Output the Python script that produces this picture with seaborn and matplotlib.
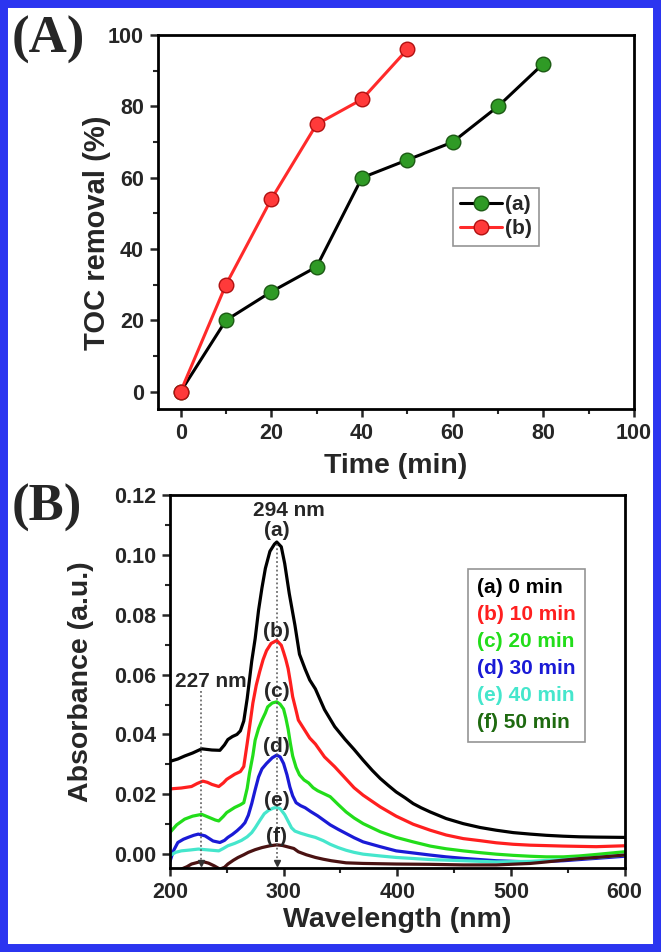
import numpy as np
import pandas as pd
import matplotlib
matplotlib.use("Agg")
import matplotlib.pyplot as plt
from matplotlib.patches import Rectangle
from matplotlib.lines import Line2D
import seaborn as sns

# ---------------- data: panel A ----------------
time_a = [0, 10, 20, 30, 40, 50, 60, 70, 80]
toc_a = [0, 20, 28, 35, 60, 65, 70, 80, 92]
time_b = [0, 10, 20, 30, 40, 50]
toc_b = [0, 30, 54, 75, 82, 96]
labels_A = ["(a)", "(b)"]

# ---------------- data: panel B ----------------
wl_a = [200, 207, 213, 220, 228, 237, 244, 248, 251, 255, 259, 262, 265, 268, 272, 275, 278, 281, 284, 288,
        292, 294, 298, 301, 305, 310, 314, 319, 323, 328, 336, 345, 354, 362, 370, 378, 385, 392, 399, 407,
        414, 421, 429, 443, 458, 473, 487, 502, 517, 531, 546, 560, 575, 600]
ab_a = [0.031, 0.0318, 0.0328, 0.0338, 0.0352, 0.0348, 0.0347, 0.0365, 0.0383, 0.0393, 0.040, 0.0412, 0.0445,
        0.052, 0.0645, 0.072, 0.0815, 0.089, 0.0955, 0.1012, 0.1036, 0.1043, 0.1027, 0.0971, 0.0871, 0.0765,
        0.0668, 0.0618, 0.0582, 0.0552, 0.0483, 0.0426, 0.0384, 0.035, 0.0314, 0.028, 0.0253, 0.023, 0.0208,
        0.0188, 0.0169, 0.0155, 0.0141, 0.0119, 0.0102, 0.0089, 0.008, 0.0072, 0.0067, 0.0063, 0.006, 0.0058,
        0.0057, 0.0056]

wl_b = [200, 210, 219, 224, 229, 233, 237, 243, 247, 250, 257, 262, 265, 268, 271, 273, 276, 279, 282, 285,
        289, 294, 298, 300, 302, 304, 306, 308, 311, 313, 319, 323, 328, 336, 345, 354, 362, 370, 385, 399,
        414, 429, 443, 458, 473, 487, 502, 517, 546, 575, 600]
ab_b = [0.0218, 0.0221, 0.0226, 0.0236, 0.0244, 0.024, 0.0233, 0.0226, 0.0238, 0.025, 0.0267, 0.0276, 0.0293,
        0.037, 0.045, 0.0505, 0.0565, 0.061, 0.065, 0.068, 0.0704, 0.0714, 0.0698, 0.0675, 0.065, 0.062, 0.0575,
        0.0526, 0.048, 0.0448, 0.0412, 0.0388, 0.0368, 0.0325, 0.0292, 0.0255, 0.0222, 0.0197, 0.0158, 0.0127,
        0.010, 0.008, 0.0064, 0.0052, 0.0045, 0.0038, 0.0033, 0.003, 0.0027, 0.0025, 0.0028]

wl_c = [200, 206, 213, 220, 228, 235, 240, 243, 247, 250, 257, 262, 265, 268, 270, 273, 275, 278, 281, 284,
        286, 290, 294, 297, 300, 302, 304, 306, 308, 311, 314, 318, 322, 326, 330, 341, 348, 355, 362, 370,
        385, 399, 414, 429, 443, 458, 473, 487, 502, 517, 531, 546, 560, 575, 600]
ab_c = [0.0072, 0.0098, 0.0117, 0.0127, 0.0133, 0.0122, 0.0114, 0.0111, 0.0126, 0.0139, 0.0156, 0.0165, 0.0172,
        0.022, 0.027, 0.033, 0.0381, 0.042, 0.0448, 0.0472, 0.0492, 0.0505, 0.0509, 0.0501, 0.0485, 0.0455,
        0.0418, 0.037, 0.0328, 0.029, 0.0265, 0.0248, 0.0238, 0.0222, 0.0212, 0.0192, 0.0166, 0.0141, 0.0121,
        0.0102, 0.0075, 0.0056, 0.0041, 0.0027, 0.0018, 0.0011, 0.0005, 0.0, -0.0004, -0.0007, -0.0009, -0.0009,
        -0.0006, -0.0001, 0.0008]

wl_d = [200, 203, 207, 212, 216, 221, 225, 231, 238, 244, 248, 251, 255, 259, 263, 266, 269, 272, 275, 278,
        281, 285, 290, 294, 297, 300, 303, 305.5, 308, 311, 315, 319, 324, 330, 341, 348, 355, 362, 370, 385,
        399, 414, 429, 443, 458, 487, 517, 546, 575, 600]
ab_d = [-0.0025, 0.001, 0.0039, 0.005, 0.0056, 0.0063, 0.0067, 0.0061, 0.0044, 0.0039, 0.0046, 0.0056, 0.0066,
        0.0078, 0.0092, 0.0105, 0.013, 0.0169, 0.0215, 0.0258, 0.0285, 0.0303, 0.0322, 0.0331, 0.0325, 0.0303,
        0.0265, 0.0225, 0.0195, 0.0172, 0.0162, 0.0155, 0.0142, 0.0128, 0.0098, 0.0083, 0.0069, 0.0055, 0.0041,
        0.0025, 0.0011, 0.0004, -0.0003, -0.0009, -0.0014, -0.0022, -0.0026, -0.0022, -0.0014, -0.0007]

wl_e = [200, 205, 210, 218, 225, 234, 243, 247, 251, 257, 263, 268, 272, 275, 279, 283, 287, 291, 294, 297,
        301, 304, 307, 310, 315, 322, 328, 335, 341, 348, 355, 362, 370, 385, 399, 429, 458, 487, 517, 546,
        575, 600]
ab_e = [-0.0005, 0.0006, 0.0011, 0.0014, 0.0017, 0.0014, 0.0011, 0.0019, 0.0028, 0.0036, 0.0046, 0.0058, 0.0072,
        0.0088, 0.0112, 0.0135, 0.0147, 0.0154, 0.0156, 0.0152, 0.0132, 0.011, 0.0088, 0.0077, 0.007, 0.0062,
        0.0056, 0.0045, 0.0033, 0.0022, 0.0013, 0.0006, 0.0, -0.0006, -0.0011, -0.0018, -0.0022, -0.0026,
        -0.0024, -0.0018, -0.0011, -0.0003]

wl_f = [210, 215, 219, 226, 230, 234, 239, 244, 248, 251, 256, 260, 265, 269, 275, 281, 288, 294, 299, 304,
        309, 313, 320, 328, 335, 342, 355, 370, 399, 429, 458, 487, 517, 531, 546, 560, 575, 600]
ab_f = [-0.005, -0.0042, -0.0033, -0.0026, -0.0026, -0.003, -0.0039, -0.005, -0.0044, -0.0033, -0.002, -0.0011,
        -0.0002, 0.0006, 0.0015, 0.0022, 0.0028, 0.0031, 0.0029, 0.0024, 0.0019, 0.0008, -0.0002, -0.0011,
        -0.0017, -0.0022, -0.0029, -0.0031, -0.0033, -0.0034, -0.0036, -0.0036, -0.0031, -0.0026, -0.002,
        -0.0015, -0.0011, -0.0003]

curve_keys = ["(a)", "(b)", "(c)", "(d)", "(e)", "(f)"]
legend_B = ["(a) 0 min", "(b) 10 min", "(c) 20 min", "(d) 30 min", "(e) 40 min", "(f) 50 min"]
line_colors = ["#000000", "#ff1f1f", "#22dd1a", "#1a1ad6", "#45e6cc", "#4a1212"]
text_colors = ["#000000", "#ff1f1f", "#22dd1a", "#1a1ad6", "#45e6cc", "#1e6a10"]
label_y = [0.1083, 0.0743, 0.0543, 0.0359, 0.0180, 0.0058]

# ---------------- style ----------------
sns.set_style("ticks")
plt.rcParams["font.family"] = ["Liberation Sans", "DejaVu Sans"]
plt.rcParams["font.weight"] = "bold"
plt.rcParams["axes.labelweight"] = "bold"

fig = plt.figure(figsize=(6.61, 9.52), dpi=100)
axA = fig.add_axes([0.239, 0.570, 0.720, 0.393])
axB = fig.add_axes([0.257, 0.088, 0.688, 0.392])

# ---------------- panel A ----------------
sns.lineplot(x=time_a, y=toc_a, ax=axA, color="black", lw=2.2, marker="o", markersize=10.5,
             markerfacecolor="#2f9a25", markeredgecolor="#1c5a14", markeredgewidth=1, label=labels_A[0])
sns.lineplot(x=time_b, y=toc_b, ax=axA, color="#ff2a2a", lw=2.2, marker="o", markersize=10.5,
             markerfacecolor="#ff3a3a", markeredgecolor="#b01010", markeredgewidth=1, label=labels_A[1])
axA.set_xlim(-5, 100)
axA.set_ylim(-5, 100)
axA.set_xticks(np.arange(0, 101, 20))
axA.set_xticks(np.arange(10, 100, 20), minor=True)
axA.set_yticks(np.arange(0, 101, 20))
axA.set_yticks(np.arange(10, 100, 20), minor=True)
axA.set_xlabel("Time (min)", fontsize=20.5, fontweight="bold", labelpad=6)
axA.set_ylabel("TOC removal (%)", fontsize=21, fontweight="bold")
axA.yaxis.set_label_coords(-0.098, 0.473)
legA = axA.legend(loc="upper left", bbox_to_anchor=(0.62, 0.592), frameon=True, fancybox=False,
                  edgecolor="#7a7a7a", handlelength=2.0, handletextpad=0.15, borderpad=0.35,
                  labelspacing=0.25, borderaxespad=0, prop={"size": 15, "weight": "bold"})
legA.get_frame().set_linewidth(1.2)

# ---------------- panel B ----------------
wls = [wl_a, wl_b, wl_c, wl_d, wl_e, wl_f]
abss = [ab_a, ab_b, ab_c, ab_d, ab_e, ab_f]
df_b = pd.concat([pd.DataFrame({"wl": w, "abs": a, "sample": k}) for w, a, k in zip(wls, abss, curve_keys)])
sns.lineplot(data=df_b, x="wl", y="abs", hue="sample", hue_order=curve_keys,
             palette=dict(zip(curve_keys, line_colors)), lw=2.3, ax=axB, legend=False, estimator=None,
             solid_joinstyle="round", solid_capstyle="round")
axB.set_xlim(200, 600)
axB.set_ylim(-0.0047, 0.12)
axB.set_xticks(np.arange(200, 601, 100))
axB.set_xticks(np.arange(250, 600, 100), minor=True)
axB.set_yticks(np.arange(0, 0.121, 0.02))
axB.set_yticks(np.arange(0.01, 0.12, 0.02), minor=True)
axB.set_yticklabels([f"{v:.2f}" for v in np.arange(0, 0.121, 0.02)])
axB.set_xlabel("Wavelength (nm)", fontsize=20.5, fontweight="bold", labelpad=3)
axB.set_ylabel("Absorbance (a.u.)", fontsize=20.5, fontweight="bold", labelpad=14)

# annotations
ann_wl = [227, 294]
ann_top = [0.0545, 0.1035]
for w, t in zip(ann_wl, ann_top):
    axB.plot([w, w], [t, -0.0025], ls=(0, (1.2, 1.6)), color="#555555", lw=1.1)
    axB.plot([w], [-0.0028], marker="v", color="#333333", markersize=5)
for k, y in zip(curve_keys, label_y):
    axB.text(294, y, k, ha="center", va="center", fontsize=15, fontweight="bold")
axB.text(305, 0.1148, "294 nm", ha="center", va="center", fontsize=15, fontweight="bold")
axB.text(236, 0.0576, "227 nm", ha="center", va="center", fontsize=15, fontweight="bold")

handles = [Line2D([], [], lw=0, color=c) for c in line_colors]
legB = axB.legend(handles, legend_B, loc="upper left", bbox_to_anchor=(0.655, 0.802), frameon=True,
                  fancybox=False, edgecolor="#7a7a7a", handlelength=0, handletextpad=0, borderpad=0.45,
                  labelspacing=0.385, borderaxespad=0, prop={"size": 15, "weight": "bold"})
legB.get_frame().set_linewidth(1.2)
for txt, c in zip(legB.get_texts(), text_colors):
    txt.set_color(c)

# common axis styling
for ax in (axA, axB):
    for s in ax.spines.values():
        s.set_visible(True)
        s.set_linewidth(2)
        s.set_color("black")
    ax.tick_params(which="major", direction="out", length=6, width=1.8, labelsize=15.5, pad=4)
    ax.tick_params(which="minor", direction="out", length=3.5, width=1.5)
    for lab in ax.get_xticklabels() + ax.get_yticklabels():
        lab.set_fontweight("bold")

# panel letters
fig.text(0.018, 0.958, "(A)", family=["Liberation Serif", "DejaVu Serif"], fontsize=38,
         fontweight="bold", va="center", ha="left")
fig.text(0.018, 0.466, "(B)", family=["Liberation Serif", "DejaVu Serif"], fontsize=38,
         fontweight="bold", va="center", ha="left")

# blue frame
fig.patches.append(Rectangle((0, 0), 1, 1, transform=fig.transFigure, fill=False,
                             edgecolor="#2b35f0", lw=11.5, zorder=10))

fig.savefig("out.png", dpi=100)
